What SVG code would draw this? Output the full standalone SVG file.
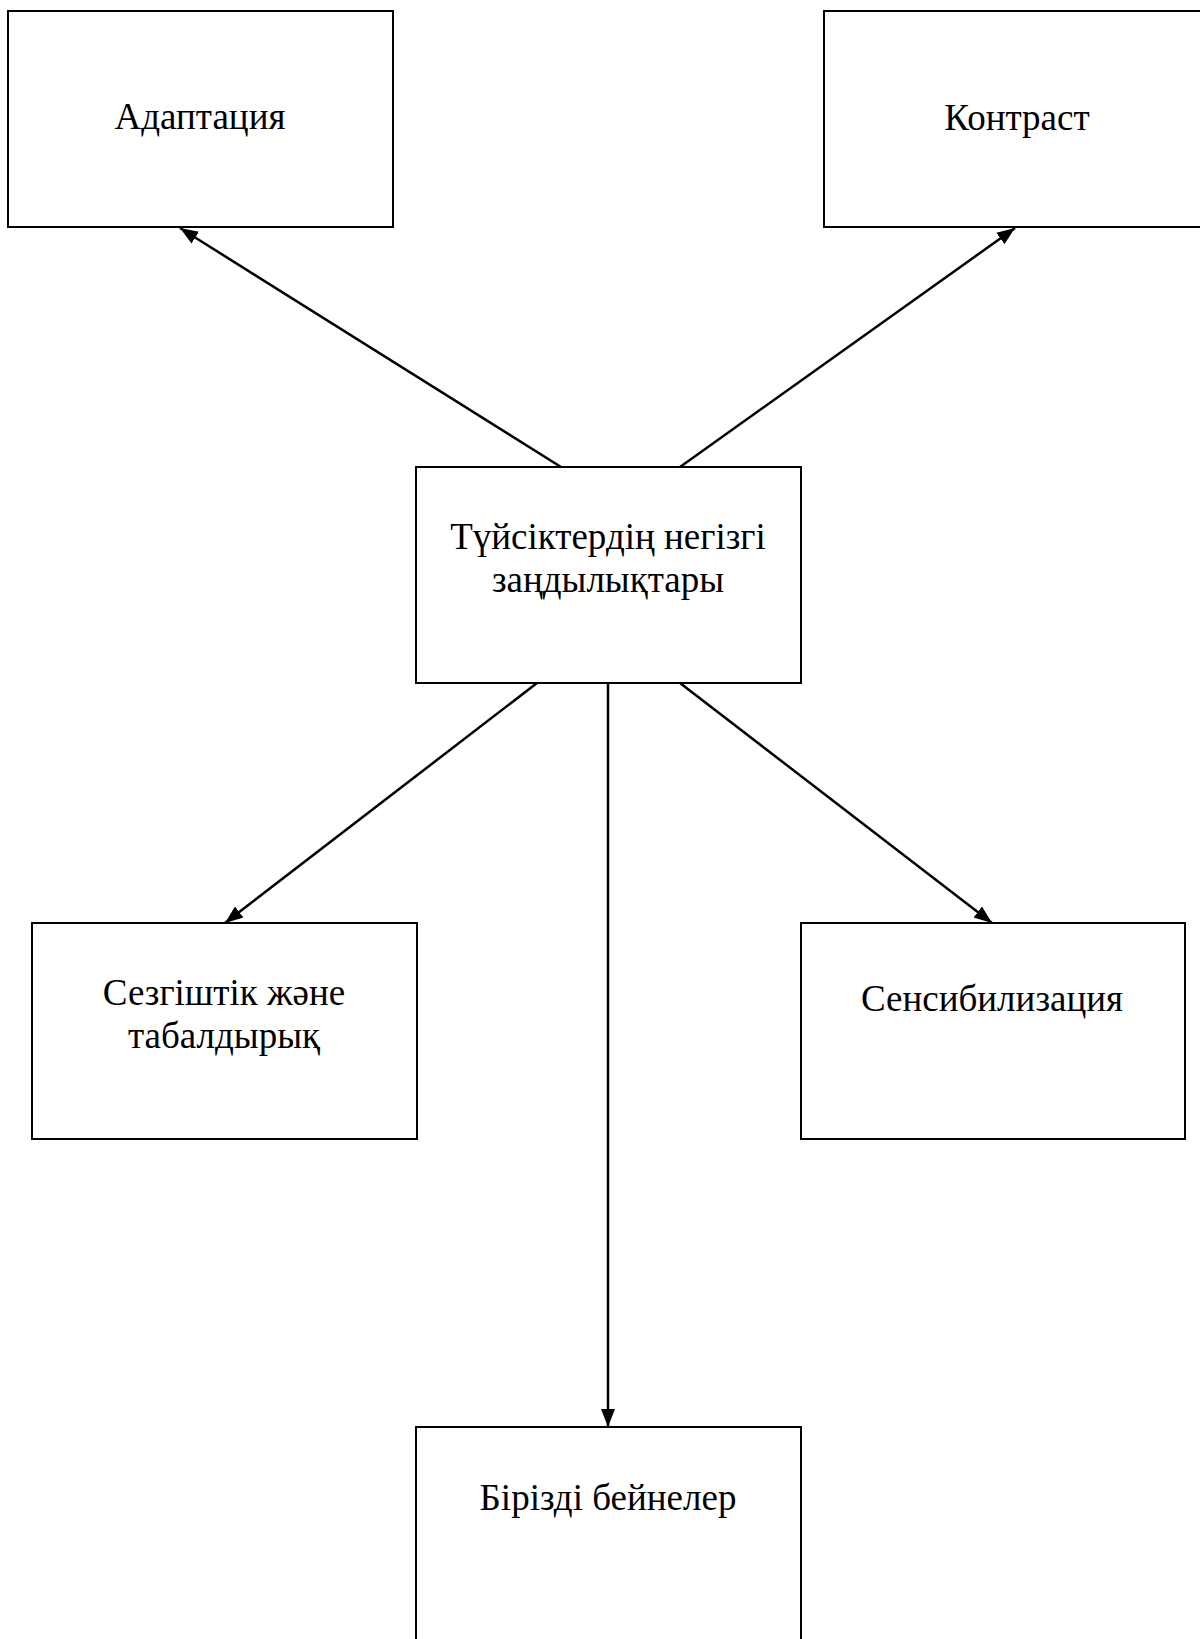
<svg xmlns="http://www.w3.org/2000/svg" width="1200" height="1639" viewBox="0 0 1200 1639">
<style>
.box{fill:#fff;stroke:#000;stroke-width:2}
.lbl{font-family:"Liberation Serif","Times New Roman",serif;font-size:37px;fill:#000;text-anchor:middle}
.conn{stroke:#000;stroke-width:2.5;fill:none;marker-end:url(#arr)}
</style>
<defs>
<marker id="arr" markerUnits="userSpaceOnUse" markerWidth="20" markerHeight="16" refX="18" refY="8" orient="auto">
<path d="M0,1 L18,8 L0,15 Z" fill="#000"/>
</marker>
</defs>
<g id="n-adaptation">
<rect class="box" x="8" y="11" width="385" height="216"/>
<text class="lbl" x="200" y="129">Адаптация</text>
</g>
<g id="n-contrast">
<rect class="box" x="824" y="11" width="390" height="216"/>
<text class="lbl" x="1017" y="130">Контраст</text>
</g>
<g id="n-center">
<rect class="box" x="416" y="467" width="385" height="216"/>
<text class="lbl" x="608" y="549">Түйсіктердің негізгі</text>
<text class="lbl" x="608" y="592">заңдылықтары</text>
</g>
<g id="n-sensitivity">
<rect class="box" x="32" y="923" width="385" height="216"/>
<text class="lbl" x="224" y="1005">Сезгіштік және</text>
<text class="lbl" x="224" y="1048">табалдырық</text>
</g>
<g id="n-sensibilization">
<rect class="box" x="801" y="923" width="384" height="216"/>
<text class="lbl" x="992" y="1011">Сенсибилизация</text>
</g>
<g id="n-images">
<rect class="box" x="416" y="1427" width="385" height="230"/>
<text class="lbl" x="608" y="1510">Бірізді бейнелер</text>
</g>
<g id="connectors">
<line class="conn" x1="561" y1="467" x2="180" y2="228"/>
<line class="conn" x1="680" y1="467" x2="1015" y2="228"/>
<line class="conn" x1="537" y1="683" x2="225" y2="923"/>
<line class="conn" x1="608" y1="683" x2="608" y2="1427"/>
<line class="conn" x1="680" y1="683" x2="992" y2="923"/>
</g>
</svg>
